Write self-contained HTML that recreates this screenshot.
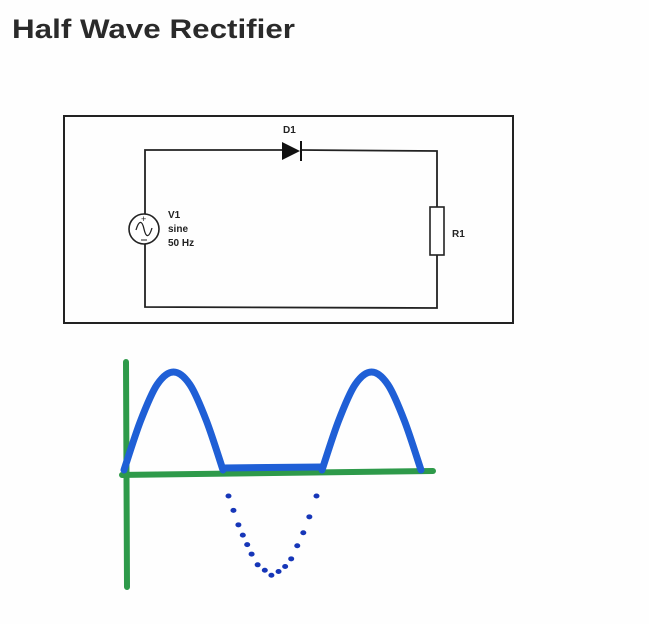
<!DOCTYPE html>
<html><head><meta charset="utf-8">
<style>
html,body{margin:0;padding:0;background:#fefefe;}
svg{display:block;}
text{font-family:"Liberation Sans",Arial,sans-serif;}
</style></head>
<body>
<svg id="s" width="649" height="624" viewBox="0 0 649 624" xmlns="http://www.w3.org/2000/svg">
  <text x="12" y="38" font-size="27" font-weight="bold" fill="#2a2a2a" textLength="283" lengthAdjust="spacingAndGlyphs">Half Wave Rectifier</text>

  <g>
    <rect x="64" y="116" width="449" height="207" fill="none" stroke="#222" stroke-width="2"/>
    <polyline points="145,214 145,150 282,150" fill="none" stroke="#222" stroke-width="1.8"/>
    <polyline points="300,150 437,151 437,207" fill="none" stroke="#222" stroke-width="1.8"/>
    <polyline points="437,255 437,308 145,307 145,244" fill="none" stroke="#222" stroke-width="1.8"/>
    <g>
      <polygon points="282,142 282,160 300,151" fill="#111"/>
      <line x1="301" y1="141" x2="301" y2="161" stroke="#111" stroke-width="2"/>
    </g>
    <text x="283" y="133" font-size="10" font-weight="bold" fill="#222">D1</text>
    <g>
      <circle cx="144" cy="229" r="15" fill="#fff" stroke="#222" stroke-width="1.6"/>
      <path d="M136,230 C139,220 142,220 144,229 C146,238 149,238 152,228" fill="none" stroke="#222" stroke-width="1.3"/>
      <text x="141" y="222" font-size="9" fill="#222">+</text>
      <line x1="141" y1="240" x2="147" y2="240" stroke="#222" stroke-width="1"/>
    </g>
    <text x="168" y="218" font-size="10" font-weight="bold" fill="#222">V1</text>
    <text x="168" y="232" font-size="10" font-weight="bold" fill="#222">sine</text>
    <text x="168" y="246" font-size="10" font-weight="bold" fill="#222">50 Hz</text>
    <rect x="430" y="207" width="14" height="48" fill="#fff" stroke="#222" stroke-width="1.6"/>
    <text x="452" y="237" font-size="10" font-weight="bold" fill="#222">R1</text>
  </g>

  <g id="plot"></g>
</svg>
<script>
// phase in degrees across two cycles, input sine amplitude (normalized)
const phases = [0,30,60,90,120,150,180,210,240,270,300,330,360,390,420,450,480,510,540];
const inputVolts = [0,0.5,0.87,1,0.87,0.5,0,-0.5,-0.87,-1,-0.87,-0.5,0,0.5,0.87,1,0.87,0.5,0];
const dotPhases = [190,199,208,216,224,232,243,256,268,281,293,304,315,326,337,350];

const NS = "http://www.w3.org/2000/svg";
const plot = document.getElementById('plot');
const x0 = 124, x1 = 421, yZero = 470, yPeak = 372;
function xScale(p){ return x0 + (p / 540) * (x1 - x0); }
function yScale(v){ return yZero - v * (yZero - yPeak); }
function mk(tag, attrs){ const e = document.createElementNS(NS, tag); for (const k in attrs) e.setAttribute(k, attrs[k]); return e; }

const yAxis = mk('line', {x1:126, y1:362, x2:127, y2:587, stroke:'#2e9a4a', 'stroke-width':6, 'stroke-linecap':'round'});


plot.appendChild(yAxis);
const xAxis = mk('line', {x1:122, y1:475, x2:433, y2:471, stroke:'#2e9a4a', 'stroke-width':6, 'stroke-linecap':'round'});


plot.appendChild(xAxis);

function smooth(pts){
  let s = 'M' + pts[0][0] + ',' + pts[0][1];
  for (let i = 0; i < pts.length - 1; i++) {
    const p0 = pts[i-1] || pts[i], p1 = pts[i], p2 = pts[i+1], p3 = pts[i+2] || p2;
    const c1 = [p1[0] + (p2[0]-p0[0])/6, p1[1] + (p2[1]-p0[1])/6];
    const c2 = [p2[0] - (p3[0]-p1[0])/6, p2[1] - (p3[1]-p1[1])/6];
    s += ' C' + c1.join(',') + ' ' + c2.join(',') + ' ' + p2.join(',');
  }
  return s;
}
function segment(a, b){
  const pts = [];
  for (let i = 0; i < phases.length; i++) if (phases[i] >= a && phases[i] <= b) pts.push([xScale(phases[i]), yScale(Math.max(0, inputVolts[i]))]);
  return pts;
}
const hump1 = mk('path', {d: smooth(segment(0,180)), fill:'none', stroke:'#1f5fd6', 'stroke-width':7, 'stroke-linecap':'round', 'stroke-linejoin':'round'});


plot.appendChild(hump1);
const flat = mk('line', {x1:xScale(180), y1:yScale(0)-2, x2:xScale(360), y2:yScale(0)-3, stroke:'#1f5fd6', 'stroke-width':7, 'stroke-linecap':'round'});


plot.appendChild(flat);
const hump2 = mk('path', {d: smooth(segment(360,540)), fill:'none', stroke:'#1f5fd6', 'stroke-width':7, 'stroke-linecap':'round', 'stroke-linejoin':'round'});


plot.appendChild(hump2);

function inputAt(p){
  for (let i = 0; i < phases.length - 1; i++) {
    if (p >= phases[i] && p <= phases[i+1]) {
      const t = (p - phases[i]) / (phases[i+1] - phases[i]);
      return inputVolts[i] + t * (inputVolts[i+1] - inputVolts[i]);
    }
  }
  return 0;
}
const negScale = 0.98;
dotPhases.forEach(p => {
  const dot = mk('ellipse', {cx: xScale(p), cy: yZero + 10 - inputAt(p) * (yZero - yPeak) * negScale, rx:3, ry:2.5, fill:'#1636b8'});
  
  
  plot.appendChild(dot);
});
</script>
</body></html>
